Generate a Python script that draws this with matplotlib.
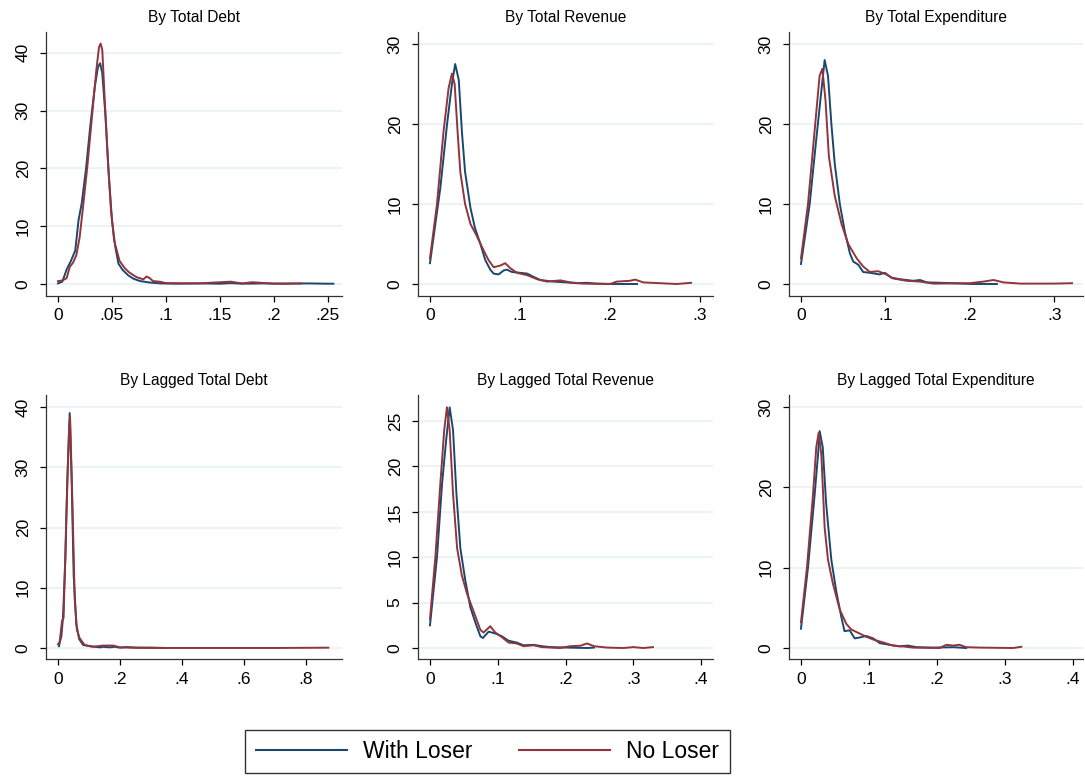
import matplotlib
matplotlib.use("Agg")
import matplotlib.pyplot as plt
from matplotlib.lines import Line2D

plt.rcParams['font.family'] = ['Liberation Sans', 'DejaVu Sans']

navy = "#1a476f"
maroon = "#90353b"
gridc = "#eaf2f3"

# ---- data (density curves) ----
# By Total Debt
debt_w_x = [0, .004, .008, .012, .016, .019, .022, .026, .030, .034, .037, .039, .041, .044, .047, .050,
            .053, .056, .060, .065, .070, .076, .085, .095, .11, .13, .15, .16, .17, .19, .21, .23, .25, .255]
debt_w_y = [0.1, 0.4, 2.5, 4.0, 5.8, 11.0, 14.0, 20.0, 27.5, 34.0, 37.5, 38.2, 36.5, 29.0, 19.0, 11.0,
            6.5, 3.5, 2.4, 1.5, 0.9, 0.5, 0.25, 0.1, 0.05, 0.1, 0.05, 0.15, 0.05, 0.1, 0.05, 0.1, 0.05, 0.05]
debt_n_x = [0, .004, .008, .011, .014, .017, .020, .023, .027, .032, .0355, .038, .0395, .041, .043, .046,
            .049, .052, .057, .062, .066, .0725, .079, .082, .085, .088, .094, .10, .13, .16, .17, .18, .20, .225]
debt_n_y = [0.5, 0.6, 1.0, 3.0, 3.7, 5.0, 8.0, 13.0, 20.0, 30.0, 37.0, 41.0, 41.6, 40.5, 33.0, 22.0,
            13.0, 7.5, 4.0, 2.7, 2.0, 1.2, 0.8, 1.3, 1.0, 0.5, 0.4, 0.15, 0.1, 0.4, 0.1, 0.3, 0.05, 0.1]

# By Total Revenue
rev_w_x = [0, .0115, .019, .0244, .028, .032, .0355, .039, .045, .050, .056, .0614, .067, .0707, .0762,
           .082, .0855, .091, .10, .108, .115, .1225, .137, .152, .163, .174, .185, .204, .23]
rev_w_y = [2.6, 12.0, 20.0, 25.0, 27.5, 25.5, 19.0, 14.0, 9.5, 7.0, 5.0, 3.0, 1.8, 1.3, 1.2,
           1.7, 1.8, 1.5, 1.4, 1.3, 0.9, 0.5, 0.3, 0.2, 0.1, 0.15, 0.05, 0.0, 0.0]
rev_n_x = [0, .0078, .015, .0207, .0244, .0274, .0307, .0337, .039, .045, .052, .0596, .065, .0707, .078,
           .0836, .089, .0966, .108, .119, .13, .145, .156, .17, .20, .2075, .222, .228, .237, .256, .274, .29]
rev_n_y = [3.2, 10.0, 19.0, 24.5, 26.3, 25.0, 19.0, 14.0, 10.0, 7.5, 6.0, 4.2, 3.0, 2.1, 2.3,
           2.6, 2.0, 1.4, 1.1, 0.6, 0.3, 0.45, 0.2, 0.05, 0.0, 0.3, 0.4, 0.55, 0.2, 0.1, 0.0, 0.15]

# By Total Expenditure
exp_w_x = [0, .0103, .018, .024, .028, .032, .036, .040, .046, .052, .058, .062, .068, .0736, .0815,
           .093, .0993, .107, .117, .133, .141, .149, .165, .18, .204, .232]
exp_w_y = [2.5, 10.0, 18.0, 24.0, 28.0, 26.0, 20.0, 15.0, 10.0, 6.5, 3.8, 2.8, 2.4, 1.5, 1.4,
           1.2, 1.4, 0.8, 0.6, 0.4, 0.5, 0.2, 0.15, 0.1, 0.0, 0.0]
exp_n_x = [0, .0083, .016, .022, .0253, .029, .033, .040, .048, .056, .066, .0736, .0815, .0914, .101,
           .109, .125, .141, .157, .20, .216, .228, .24, .26, .299, .321]
exp_n_y = [3.2, 10.0, 19.0, 26.0, 26.9, 23.0, 16.0, 11.0, 7.5, 5.0, 3.2, 2.2, 1.5, 1.6, 1.2,
           0.7, 0.4, 0.3, 0.05, 0.1, 0.3, 0.5, 0.2, 0.05, 0.05, 0.1]

# By Lagged Total Debt
ldebt_w_x = [.003, .011, .016, .024, .030, .0377, .044, .0506, .059, .068, .081, .102, .135, .145,
             .167, .183, .20, .22, .253, .296, .35]
ldebt_w_y = [0.3, 2.0, 5.0, 15.0, 28.0, 39.0, 28.0, 12.0, 4.0, 1.5, 0.5, 0.3, 0.1, 0.2,
             0.1, 0.2, 0.05, 0.15, 0.05, 0.05, 0.0]
ldebt_n_x = [0, .0054, .013, .018, .027, .0355, .039, .046, .054, .061, .070, .086, .113, .145,
             .178, .20, .242, .35, .50, .70, .872]
ldebt_n_y = [0.6, 1.0, 4.5, 5.0, 22.0, 36.0, 38.3, 25.0, 8.0, 3.0, 1.6, 0.5, 0.2, 0.4,
             0.4, 0.1, 0.05, 0.0, 0.0, 0.0, 0.05]

# By Lagged Total Revenue
lrev_w_x = [0, .0103, .0177, .024, .029, .034, .039, .0448, .052, .0595, .067, .0743, .078, .0866,
            .0964, .106, .116, .128, .138, .153, .165, .178, .202, .232, .242]
lrev_w_y = [2.5, 10.0, 18.0, 23.0, 26.5, 24.0, 17.0, 11.0, 7.5, 4.5, 2.8, 1.3, 1.1, 1.8,
            1.6, 1.3, 0.8, 0.6, 0.3, 0.35, 0.2, 0.1, 0.05, 0.0, 0.05]
lrev_n_x = [0, .0079, .0152, .021, .025, .029, .034, .040, .047, .0546, .0645, .0743, .079, .089,
            .0964, .106, .116, .128, .138, .153, .165, .192, .207, .222, .232, .242, .261, .286, .30, .315, .329]
lrev_n_y = [3.2, 10.0, 18.0, 24.0, 26.5, 24.0, 17.0, 11.0, 8.0, 6.0, 4.0, 2.0, 1.7, 2.4,
            1.7, 1.2, 0.6, 0.5, 0.2, 0.3, 0.1, 0.0, 0.2, 0.25, 0.5, 0.2, 0.05, 0.0, 0.1, 0.0, 0.1]

# By Lagged Total Expenditure
lexp_w_x = [0, .0103, .020, .025, .0275, .032, .037, .0446, .052, .059, .064, .0716, .079, .086,
            .096, .106, .116, .13, .145, .157, .17, .194, .224, .243]
lexp_w_y = [2.4, 10.0, 19.0, 24.0, 27.0, 25.0, 18.0, 11.0, 7.0, 4.0, 2.1, 2.2, 1.2, 1.3,
            1.5, 1.2, 0.6, 0.4, 0.2, 0.3, 0.1, 0.05, 0.1, 0.0]
lexp_n_x = [0, .0088, .0176, .0225, .026, .030, .0348, .0397, .047, .057, .0667, .074, .0838, .096,
            .108, .1206, .135, .15, .165, .204, .214, .2235, .233, .243, .263, .312, .324]
lexp_n_y = [3.2, 10.0, 19.0, 25.0, 26.8, 24.0, 15.0, 11.0, 8.0, 4.8, 3.0, 2.3, 1.9, 1.4,
            1.0, 0.7, 0.3, 0.2, 0.05, 0.0, 0.4, 0.3, 0.4, 0.1, 0.05, 0.0, 0.15]

titles = ["By Total Debt", "By Total Revenue", "By Total Expenditure",
          "By Lagged Total Debt", "By Lagged Total Revenue", "By Lagged Total Expenditure"]
series = [(debt_w_x, debt_w_y, debt_n_x, debt_n_y),
          (rev_w_x, rev_w_y, rev_n_x, rev_n_y),
          (exp_w_x, exp_w_y, exp_n_x, exp_n_y),
          (ldebt_w_x, ldebt_w_y, ldebt_n_x, ldebt_n_y),
          (lrev_w_x, lrev_w_y, lrev_n_x, lrev_n_y),
          (lexp_w_x, lexp_w_y, lexp_n_x, lexp_n_y)]
xticks = [[0, .05, .1, .15, .2, .25], [0, .1, .2, .3], [0, .1, .2, .3],
          [0, .2, .4, .6, .8], [0, .1, .2, .3, .4], [0, .1, .2, .3, .4]]
xticklabels = [["0", ".05", ".1", ".15", ".2", ".25"], ["0", ".1", ".2", ".3"], ["0", ".1", ".2", ".3"],
               ["0", ".2", ".4", ".6", ".8"], ["0", ".1", ".2", ".3", ".4"], ["0", ".1", ".2", ".3", ".4"]]
yticks = [[0, 10, 20, 30, 40], [0, 10, 20, 30], [0, 10, 20, 30],
          [0, 10, 20, 30, 40], [0, 5, 10, 15, 20, 25], [0, 10, 20, 30]]

# axes boxes in pixels: left, right, top, bottom  and limits
boxes = [(46, 342, 32, 296), (418, 713, 32, 296), (789, 1083, 32, 296),
         (46, 342, 395, 659), (418, 713, 395, 659), (789, 1083, 395, 659)]
xlims = [(-0.0111, 0.263), (-0.0133, 0.3144), (-0.0142, 0.334),
         (-0.0387, 0.916), (-0.0177, 0.4177), (-0.0176, 0.4147)]
ylims = [(-2.08, 43.6), (-1.5, 31.5), (-1.5, 31.5),
         (-1.83, 42.0), (-1.21, 27.86), (-1.37, 31.5)]

W, H = 1085, 780
fig = plt.figure(figsize=(W / 100, H / 100), dpi=100)

for i in range(6):
    l, r, t, b = boxes[i]
    ax = fig.add_axes([l / W, 1 - b / H, (r - l) / W, (b - t) / H])
    wx, wy, nx, ny = series[i]
    for yt in yticks[i]:
        ax.axhline(yt, color=gridc, lw=1.3, zorder=0)
    ax.plot(wx, wy, color=navy, lw=1.4)
    ax.plot(nx, ny, color=maroon, lw=1.4)
    ax.set_xlim(*xlims[i])
    ax.set_ylim(*ylims[i])
    ax.set_xticks(xticks[i])
    ax.set_xticklabels(xticklabels[i])
    ax.set_yticks(yticks[i])
    ax.set_yticklabels([str(v) for v in yticks[i]], rotation=90, va='center')
    ax.tick_params(direction='out', length=4, width=0.9, labelsize=12.5, colors='black')
    ax.tick_params(axis='y', pad=7)
    ax.tick_params(axis='x', pad=5)
    for s in ['top', 'right']:
        ax.spines[s].set_visible(False)
    for s in ['left', 'bottom']:
        ax.spines[s].set_linewidth(0.9)
        ax.spines[s].set_color('#333333')
    ax.set_title(titles[i], fontsize=11.2, pad=7)

handles = [Line2D([], [], color=navy, lw=1.5), Line2D([], [], color=maroon, lw=1.5)]
leg = fig.legend(handles, ["With Loser", "No Loser"], loc='center',
                 bbox_to_anchor=(487.5 / W, 1 - 751.5 / H), ncol=2, fontsize=16.5,
                 frameon=True, fancybox=False, edgecolor='black', handlelength=4,
                 handletextpad=0.7, columnspacing=2.0, borderpad=0.45)
leg.get_frame().set_linewidth(1.0)

fig.savefig("out.png", dpi=100, facecolor='white')
